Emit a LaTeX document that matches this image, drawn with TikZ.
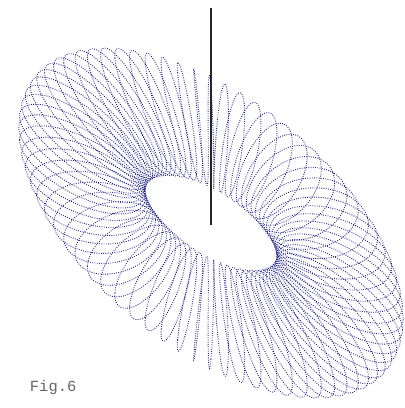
\documentclass[tikz,border=0pt]{standalone}
\usepackage{fontspec}
\usepackage{tikz}
\newfontfamily\figfont{Liberation Mono}
\definecolor{coilblue}{RGB}{35,35,140}

\begin{document}
\begin{tikzpicture}[x=0.025cm, y=-0.025cm,
  coil/.style={coilblue, line width=0.65pt, dash pattern=on 0.6pt off 1.0pt}]
\useasboundingbox (0,0) rectangle (405,408);
\foreach \k in {0,...,71}
\draw[coil, smooth, samples=61, domain=0:360]
plot ({211 + (1 + 0.49*cos(\x))*129*cos(\k*5 + \x/72)},
      {223 - (1 + 0.49*cos(\x))*(91*sin(\k*5 + \x/72) - 64*cos(\k*5 + \x/72)) - 33*sin(\x)});
\coordinate (top) at (211,8);
\coordinate (hub) at (211,225);
\draw[line width=0.9pt, black!85] (top) -- (hub);
\node[black!60, font=\figfont\fontsize{11}{13}\selectfont, anchor=west] (label) at (25,387) {Fig.6};
\end{tikzpicture}
\end{document}
